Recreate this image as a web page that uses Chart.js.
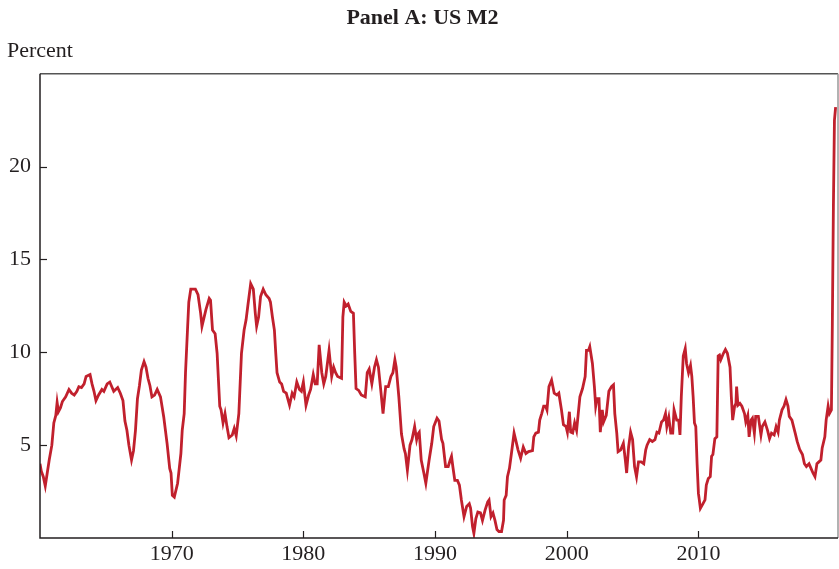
<!DOCTYPE html>
<html>
<head>
<meta charset="utf-8">
<script src="https://cdn.jsdelivr.net/npm/chart.js@4/dist/chart.umd.min.js"></script>
<style>
  html, body { margin: 0; padding: 0; background: #fff; }
  #wrap { width: 839px; height: 569px; }
</style>
</head>
<body>
<div id="wrap"><canvas id="myChart"></canvas></div>
<script>
// fechas (año decimal) y crecimiento anual de M2 en %
const dates = [
  1960.0,1960.1,1960.25,1960.4,1960.55,1960.7,1960.9,1961.05,1961.2,1961.3,1961.4,1961.55,1961.7,1961.95,
  1962.2,1962.4,1962.6,1962.8,1962.95,1963.15,1963.35,1963.5,1963.8,1963.95,1964.1,1964.25,1964.45,1964.7,
  1964.85,1965.1,1965.3,1965.6,1965.9,1966.1,1966.3,1966.45,1966.6,1966.75,1966.95,1967.1,1967.25,1967.4,
  1967.55,1967.7,1967.9,1968.05,1968.2,1968.35,1968.5,1968.7,1968.9,1969.15,1969.4,1969.65,1969.85,1969.95,
  1970.05,1970.2,1970.45,1970.7,1970.8,1970.95,1971.05,1971.2,1971.3,1971.45,1971.8,1972.0,1972.2,1972.3,
  1972.6,1972.85,1972.95,1973.1,1973.3,1973.45,1973.65,1973.75,1973.9,1974.05,1974.2,1974.35,1974.6,1974.75,
  1974.9,1975.1,1975.3,1975.5,1975.65,1975.8,1976.0,1976.2,1976.35,1976.45,1976.6,1976.75,1976.95,1977.15,
  1977.4,1977.5,1977.65,1977.8,1977.9,1978.0,1978.2,1978.35,1978.5,1978.7,1978.95,1979.15,1979.3,1979.5,
  1979.7,1979.85,1980.0,1980.2,1980.4,1980.55,1980.75,1980.9,1981.05,1981.2,1981.4,1981.55,1981.7,1981.95,
  1982.15,1982.3,1982.45,1982.6,1982.9,1983.0,1983.1,1983.25,1983.4,1983.6,1983.8,1983.9,1984.0,1984.2,
  1984.4,1984.7,1984.85,1985.0,1985.2,1985.4,1985.55,1985.7,1985.9,1986.05,1986.25,1986.45,1986.65,1986.8,
  1986.95,1987.05,1987.25,1987.45,1987.65,1987.75,1987.9,1988.1,1988.25,1988.45,1988.6,1988.7,1988.8,1988.95,
  1989.15,1989.3,1989.55,1989.75,1989.9,1990.15,1990.3,1990.5,1990.6,1990.8,1991.0,1991.15,1991.25,1991.35,
  1991.5,1991.7,1991.85,1992.0,1992.2,1992.4,1992.6,1992.7,1992.85,1992.95,1993.1,1993.25,1993.45,1993.6,
  1993.8,1994.0,1994.1,1994.25,1994.4,1994.55,1994.7,1994.85,1995.05,1995.2,1995.25,1995.4,1995.5,1995.65,
  1995.8,1996.0,1996.15,1996.3,1996.5,1996.7,1996.9,1997.1,1997.4,1997.5,1997.65,1997.85,1997.95,1998.1,
  1998.25,1998.4,1998.5,1998.65,1998.85,1999.05,1999.25,1999.4,1999.6,1999.75,1999.95,2000.05,2000.2,2000.3,
  2000.45,2000.6,2000.75,2001.0,2001.2,2001.4,2001.5,2001.65,2001.75,2001.95,2002.1,2002.2,2002.3,2002.45,
  2002.55,2002.7,2002.8,2003.0,2003.2,2003.4,2003.55,2003.65,2003.8,2003.9,2004.1,2004.3,2004.45,2004.55,
  2004.7,2004.85,2005.0,2005.15,2005.3,2005.45,2005.65,2005.85,2006.0,2006.1,2006.3,2006.5,2006.7,2006.85,
  2007.0,2007.2,2007.35,2007.5,2007.6,2007.75,2007.9,2008.05,2008.15,2008.35,2008.5,2008.6,2008.7,2008.85,
  2009.0,2009.1,2009.25,2009.4,2009.5,2009.6,2009.7,2009.8,2009.9,2010.0,2010.05,2010.15,2010.35,2010.5,
  2010.6,2010.75,2010.9,2011.0,2011.1,2011.25,2011.4,2011.5,2011.6,2011.7,2011.9,2012.05,2012.2,2012.4,
  2012.5,2012.6,2012.75,2012.85,2012.9,2013.0,2013.15,2013.3,2013.5,2013.6,2013.75,2013.85,2014.0,2014.1,
  2014.25,2014.35,2014.55,2014.75,2014.85,2015.05,2015.25,2015.4,2015.55,2015.75,2015.9,2016.05,2016.15,2016.35,
  2016.5,2016.65,2016.8,2016.9,2017.1,2017.35,2017.5,2017.7,2017.9,2018.05,2018.2,2018.4,2018.55,2018.7,
  2018.85,2019.0,2019.15,2019.3,2019.4,2019.6,2019.7,2019.85,2019.95,2020.1,2020.17,2020.25,2020.33,2020.42
];
const growth = [
  4.0,3.6,3.3,2.8,3.5,4.2,5.0,6.2,6.6,7.3,6.8,7.0,7.35,7.6,
  8.0,7.8,7.7,7.9,8.15,8.1,8.3,8.7,8.8,8.3,7.9,7.4,7.7,8.0,
  7.9,8.3,8.4,7.9,8.1,7.8,7.4,6.3,5.8,5.0,4.2,4.7,5.8,7.5,
  8.2,9.05,9.5,9.2,8.6,8.2,7.6,7.7,8.0,7.6,6.5,5.1,3.75,3.5,
  2.3,2.2,2.95,4.55,5.8,6.7,8.9,11.2,12.7,13.4,13.4,13.1,12.1,11.4,
  12.3,12.9,12.8,11.2,11.0,9.95,7.1,6.9,6.2,6.7,6.0,5.4,5.55,5.9,
  5.5,6.7,9.95,11.2,11.75,12.6,13.7,13.4,12.1,11.4,11.9,13.0,13.4,13.1,
  12.9,12.7,11.9,11.2,10.0,8.9,8.4,8.3,7.9,7.8,7.15,7.8,7.6,8.4,
  8.0,7.9,8.4,7.15,7.7,8.0,8.8,8.3,8.3,10.4,8.9,8.3,8.7,10.1,
  8.7,9.2,8.9,8.7,8.6,11.9,12.7,12.5,12.6,12.2,12.1,9.95,8.05,7.95,
  7.7,7.6,8.9,9.1,8.3,9.2,9.6,9.2,7.8,6.7,8.15,8.15,8.7,8.9,
  9.6,9.2,7.6,5.6,4.8,4.55,3.65,5.0,5.3,6.0,5.3,5.6,5.7,4.2,
  3.5,2.95,4.2,5.1,6.0,6.45,6.3,5.3,5.1,3.85,3.85,4.2,4.4,3.85,
  3.1,3.1,2.85,2.05,1.15,1.7,1.85,1.6,0.6,0.25,1.05,1.4,1.35,0.95,
  1.5,1.95,2.05,1.15,1.35,0.95,0.45,0.35,0.35,0.95,2.05,2.3,3.3,3.75,
  4.55,5.65,5.2,4.75,4.3,4.9,4.55,4.65,4.7,5.45,5.65,5.7,6.35,6.7,
  7.1,7.1,6.9,8.15,8.5,7.8,7.7,7.8,6.9,6.1,6.0,5.7,6.8,5.7,
  5.65,6.2,5.8,7.6,8.05,8.7,10.1,10.1,10.3,9.4,8.15,7.1,7.5,7.5,
  5.7,6.9,6.25,6.6,7.9,8.15,8.25,6.7,5.65,4.65,4.75,5.1,4.2,3.5,
  4.9,5.7,5.3,3.85,3.3,4.1,4.1,4.0,4.75,5.0,5.3,5.2,5.3,5.7,
  5.65,6.25,6.35,6.7,6.0,6.5,5.65,5.65,6.9,6.35,6.35,5.55,7.6,9.8,
  10.2,9.4,8.9,9.3,8.7,7.6,6.2,6.0,4.0,2.4,2.15,1.6,1.85,2.05,
  2.85,3.2,3.3,4.4,4.5,5.35,5.45,9.8,9.85,9.6,9.95,10.15,9.95,9.2,
  7.6,6.35,7.1,7.25,8.15,7.15,7.25,7.1,6.7,6.25,6.6,5.45,6.35,6.45,
  5.65,6.55,6.55,5.55,6.0,6.25,5.8,5.35,5.65,5.55,6.0,5.7,6.35,6.9,
  7.1,7.45,7.1,6.55,6.35,5.65,5.2,4.75,4.5,4.0,3.85,4.0,3.75,3.5,
  3.3,4.0,4.1,4.2,4.85,5.45,6.35,7.1,6.7,6.9,11.5,17.8,22.5,23.2
];
// marcas de los ejes
const xTicks = [1970, 1980, 1990, 2000, 2010];
const yTicks = [5, 10, 15, 20];

const serif = '"Liberation Serif", "DejaVu Serif", serif';
const ink = '#231f20';

// dibuja el marco y las marcas hacia adentro
const framePlugin = {
  id: 'frame',
  afterDraw(chart) {
    const c = chart.ctx, a = chart.chartArea;
    const xs = chart.scales.x, ys = chart.scales.y;
    c.save();
    c.lineWidth = 1.5;
    c.strokeStyle = '#555';
    c.beginPath(); c.moveTo(a.left, a.top); c.lineTo(a.right, a.top); c.stroke();
    c.strokeStyle = '#999';
    c.beginPath(); c.moveTo(a.right, a.top); c.lineTo(a.right, a.bottom); c.stroke();
    c.strokeStyle = ink;
    c.beginPath(); c.moveTo(a.left, a.top); c.lineTo(a.left, a.bottom); c.lineTo(a.right, a.bottom); c.stroke();
    c.lineWidth = 1.2;
    xTicks.forEach(v => {
      const px = Math.round(xs.getPixelForValue(v)) + 0.5;
      c.beginPath(); c.moveTo(px, a.bottom); c.lineTo(px, a.bottom - 7); c.stroke();
    });
    yTicks.forEach(v => {
      const py = Math.round(ys.getPixelForValue(v)) + 0.5;
      c.beginPath(); c.moveTo(a.left, py); c.lineTo(a.left + 7, py); c.stroke();
    });
    c.restore();
  }
};

const ctx = document.getElementById('myChart');
new Chart(ctx, {
  type: 'line',
  data: {
    datasets: [{
      label: 'US M2',
      data: dates.map((d, i) => ({ x: d, y: growth[i] })),
      borderColor: '#c1202d',
      borderWidth: 2.8,
      pointRadius: 0,
      tension: 0,
      fill: false
    }]
  },
  options: {
    responsive: true,
    maintainAspectRatio: false,
    animation: false,
    layout: { padding: { left: 7, right: 1, top: 0, bottom: 0 } },
    plugins: {
      legend: { display: false },
      tooltip: { enabled: false },
      title: {
        display: true,
        text: 'Panel A: US M2',
        color: ink,
        font: { family: serif, size: 22, weight: 'bold' },
        padding: { top: 5, bottom: 7 }
      },
      subtitle: {
        display: true,
        text: 'Percent',
        align: 'start',
        color: ink,
        font: { family: serif, size: 22 },
        padding: { top: 0, bottom: 9 }
      }
    },
    scales: {
      x: {
        type: 'linear',
        min: 1960,
        max: 2020.6,
        afterBuildTicks: s => { s.ticks = xTicks.map(v => ({ value: v })); },
        afterFit: s => { s.height = 31; },
        grid: { display: false, drawTicks: false },
        border: { display: false },
        ticks: {
          color: ink,
          padding: 3,
          maxRotation: 0,
          font: { family: serif, size: 22 },
          callback: v => String(v)
        }
      },
      y: {
        min: 0,
        max: 25,
        afterBuildTicks: s => { s.ticks = yTicks.map(v => ({ value: v })); },
        afterFit: s => { s.width = 33; },
        grid: { display: false, drawTicks: false },
        border: { display: false },
        ticks: {
          color: ink,
          padding: 9,
          font: { family: serif, size: 22 }
        }
      }
    }
  },
  plugins: [framePlugin]
});
</script>
</body>
</html>
